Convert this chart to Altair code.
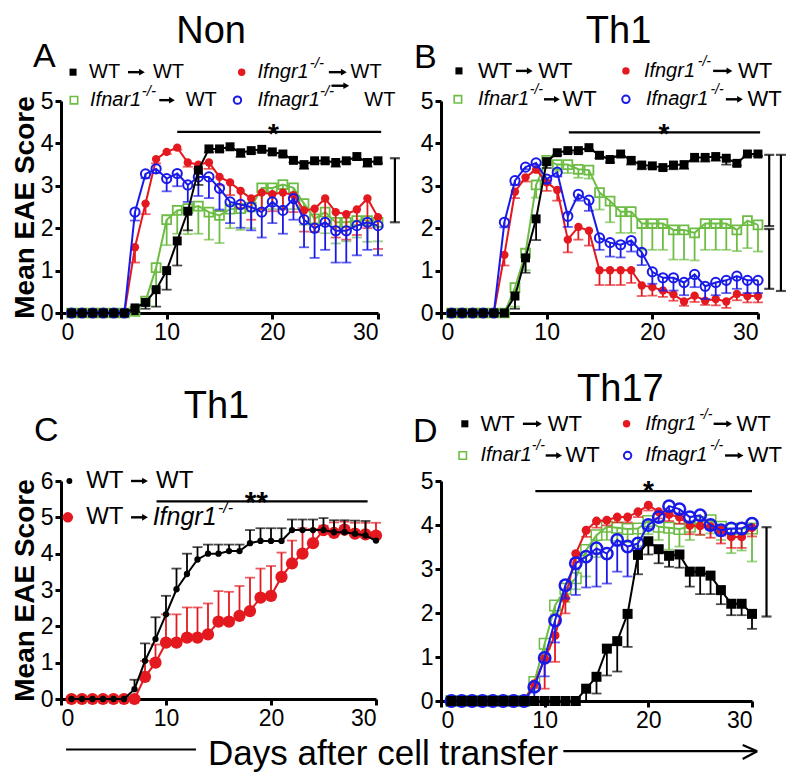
import altair as alt
import pandas as pd

FONT = "Liberation Sans"
DAYS = list(range(1, 31))
ORDER = ["Ifnar1", "Ifngr1", "Ifnagr1", "WT"]
COLORS = {"WT": "#000000", "Ifngr1": "#e3191f", "Ifnar1": "#6dbd45", "Ifnagr1": "#1a1ae8"}

# ---------------- Panel A : Non ----------------
A_WT = [0, 0, 0, 0, 0, 0, 0.12, 0.25, 0.55, 1.0, 1.7, 2.4, 3.37, 3.87, 3.87, 3.92, 3.78, 3.83, 3.86, 3.8, 3.75, 3.6, 3.5, 3.59, 3.59, 3.55, 3.59, 3.69, 3.55, 3.59]
A_WT_ERR = [0, 0, 0, 0, 0, 0, 0.1, 0.15, 0.4, 0.45, 0.58, 0.45, 0.35, 0.08, 0.06, 0.05, 0.1, 0.06, 0.06, 0.06, 0.05, 0.05, 0.1, 0.06, 0.06, 0.1, 0.06, 0.08, 0.1, 0.06]
A_GR = [0, 0, 0, 0, 0, 0, 1.55, 2.58, 3.63, 3.8, 3.9, 3.55, 3.5, 3.55, 3.21, 3.08, 2.88, 2.7, 2.84, 2.8, 2.84, 2.78, 2.42, 2.46, 2.7, 2.38, 2.33, 2.44, 2.7, 2.26]
A_GR_ERR = [0, 0, 0, 0, 0, 0, 0.36, 0.25, 0.1, 0.05, 0.05, 0.1, 0.1, 0.15, 0.2, 0.3, 0.4, 0.5, 0.4, 0.4, 0.4, 0.4, 0.5, 0.55, 0.6, 0.6, 0.6, 0.6, 0.7, 0.75]
A_AR = [0, 0, 0, 0, 0, 0, 0.04, 0.28, 1.07, 2.2, 2.42, 2.46, 2.52, 2.38, 2.3, 2.45, 2.46, 2.5, 2.95, 2.95, 3.03, 2.95, 2.58, 2.22, 2.38, 2.14, 2.14, 2.18, 2.18, 2.14]
A_AR_ERR = [0, 0, 0, 0, 0, 0, 0, 0.1, 0.5, 0.6, 0.55, 0.6, 0.65, 0.65, 0.65, 0.45, 0.5, 0.5, 0.5, 0.5, 0.55, 0.5, 0.5, 0.3, 0.5, 0.5, 0.45, 0.4, 0.5, 0.45]
A_AGR = [0, 0, 0, 0, 0, 0, 2.38, 3.28, 3.4, 3.17, 3.29, 3.02, 3.21, 3.21, 2.94, 2.62, 2.56, 2.5, 2.38, 2.62, 2.42, 2.7, 2.2, 2.0, 2.14, 1.94, 1.94, 2.06, 2.14, 2.06]
A_AGR_ERR = [0, 0, 0, 0, 0, 0, 0.2, 0.1, 0.1, 0.3, 0.3, 0.4, 0.45, 0.5, 0.5, 0.5, 0.55, 0.55, 0.6, 0.5, 0.55, 0.5, 0.65, 0.7, 0.65, 0.75, 0.75, 0.7, 0.65, 0.7]

# ---------------- Panel B : Th1 ----------------
B_WT = [0, 0, 0, 0, 0, 0, 0.4, 1.3, 2.22, 3.57, 3.78, 3.83, 3.83, 3.9, 3.72, 3.62, 3.75, 3.6, 3.49, 3.47, 3.43, 3.49, 3.5, 3.67, 3.67, 3.69, 3.65, 3.53, 3.75, 3.75]
B_WT_ERR = [0, 0, 0, 0, 0, 0, 0.3, 0.35, 0.5, 0.15, 0.05, 0.05, 0.05, 0.05, 0.07, 0.07, 0.05, 0.1, 0.1, 0.05, 0.05, 0.1, 0.1, 0.1, 0.1, 0.1, 0.15, 0.05, 0.05, 0.05]
B_GR = [0, 0, 0, 0, 0, 1.37, 2.86, 3.2, 3.38, 3.08, 2.9, 1.73, 2.03, 1.94, 1.01, 1.01, 1.01, 1.01, 0.65, 0.61, 0.53, 0.44, 0.27, 0.41, 0.29, 0.33, 0.27, 0.45, 0.4, 0.4]
B_GR_ERR = [0, 0, 0, 0, 0, 0.25, 0.15, 0.1, 0.05, 0.2, 0.25, 0.3, 0.3, 0.35, 0.35, 0.35, 0.35, 0.3, 0.25, 0.2, 0.15, 0.15, 0.1, 0.15, 0.1, 0.15, 0.15, 0.15, 0.15, 0.15]
B_AR = [0, 0, 0, 0, 0, 0, 0.6, 1.41, 3.02, 3.6, 3.5, 3.5, 3.39, 3.37, 2.84, 2.64, 2.39, 2.39, 2.11, 2.11, 2.11, 1.96, 1.96, 1.89, 2.11, 2.11, 2.11, 1.96, 2.18, 2.08]
B_AR_ERR = [0, 0, 0, 0, 0, 0, 0.45, 0.4, 0.3, 0.1, 0.15, 0.2, 0.2, 0.2, 0.4, 0.5, 0.5, 0.5, 0.62, 0.62, 0.62, 0.7, 0.7, 0.65, 0.62, 0.62, 0.62, 0.5, 0.65, 0.63]
B_AGR = [0, 0, 0, 0, 0, 2.14, 3.12, 3.44, 3.54, 3.16, 3.32, 2.28, 2.8, 2.66, 1.77, 1.66, 1.61, 1.71, 1.43, 0.97, 0.83, 0.83, 0.72, 0.91, 0.63, 0.72, 0.77, 0.87, 0.77, 0.77]
B_AGR_ERR = [0, 0, 0, 0, 0, 0.12, 0.1, 0.05, 0.05, 0.1, 0.1, 0.25, 0.15, 0.25, 0.28, 0.33, 0.3, 0.26, 0.3, 0.28, 0.3, 0.3, 0.3, 0.3, 0.3, 0.3, 0.3, 0.3, 0.3, 0.3]

# ---------------- Panel C : Th1 (recipients) ----------------
C_WT = [0, 0, 0, 0, 0, 0, 0.27, 1.05, 1.65, 2.33, 3.02, 3.44, 3.84, 4.0, 4.0, 4.07, 4.07, 4.29, 4.35, 4.35, 4.35, 4.65, 4.65, 4.65, 4.65, 4.59, 4.59, 4.55, 4.5, 4.36]
C_WT_ERR = [0, 0, 0, 0, 0, 0, 0.26, 0.48, 0.6, 0.51, 0.57, 0.56, 0.34, 0.25, 0.25, 0.18, 0.18, 0.36, 0.35, 0.35, 0.35, 0.29, 0.29, 0.29, 0.33, 0.33, 0.33, 0.36, 0.4, 0]
C_GR = [0, 0, 0, 0, 0, 0, 0, 0.61, 1.0, 1.55, 1.55, 1.69, 1.69, 1.78, 2.13, 2.13, 2.29, 2.42, 2.79, 2.84, 3.36, 3.73, 4.0, 4.29, 4.65, 4.57, 4.66, 4.55, 4.53, 4.5]
C_GR_ERR = [0, 0, 0, 0, 0, 0, 0, 0.44, 0.5, 0.78, 0.78, 0.83, 0.83, 0.85, 0.84, 0.82, 0.82, 0.92, 0.8, 0.82, 0.67, 0.63, 0.7, 0.39, 0.12, 0.29, 0.22, 0.3, 0.32, 0.35]

# ---------------- Panel D : Th17 ----------------
D_WT = [0] * 13 + [0.28, 0.55, 1.19, 1.36, 1.98, 3.32, 3.63, 3.45, 3.3, 3.33, 2.94, 2.94, 2.85, 2.52, 2.21, 2.21, 1.98]
D_WT_ERR = [0] * 13 + [0.28, 0.38, 0.61, 0.69, 0.75, 0.44, 0.3, 0.32, 0.25, 0.3, 0.34, 0.51, 0.42, 0.32, 0.26, 0.26, 0.34]
D_GR = [0] * 8 + [0.39, 0.96, 1.49, 2.34, 3.35, 3.88, 4.09, 4.11, 4.18, 4.18, 4.3, 4.45, 4.3, 4.24, 4.18, 3.99, 3.98, 3.96, 3.88, 3.73, 3.73, 3.94]
D_GR_ERR = [0] * 8 + [0.1, 0.68, 0.6, 0.35, 0.2, 0.15, 0.15, 0.12, 0.12, 0.12, 0.12, 0.12, 0.15, 0.15, 0.15, 0.2, 0.2, 0.25, 0.3, 0.25, 0.25, 0.2]
D_AR = [0] * 8 + [0.43, 1.3, 2.17, 2.55, 2.79, 3.43, 3.77, 3.96, 3.94, 3.91, 3.92, 4.09, 3.96, 3.94, 3.91, 3.96, 4.07, 4.11, 3.96, 3.91, 3.92, 3.92]
D_AR_ERR = [0] * 8 + [0.2, 0.25, 0.2, 0.3, 0.25, 0.6, 0.5, 0.3, 0.3, 0.3, 0.4, 0.3, 0.3, 0.5, 0.4, 0.3, 0.3, 0.3, 0.3, 0.55, 0.5, 0.75]
D_AGR = [0] * 8 + [0.32, 0.98, 1.83, 2.63, 3.13, 3.28, 3.47, 3.35, 3.66, 3.51, 3.58, 4.0, 4.18, 4.43, 4.36, 4.18, 4.22, 4.0, 3.88, 3.92, 3.92, 4.03]
D_AGR_ERR = [0] * 8 + [0.25, 0.42, 0.5, 0.3, 0.72, 0.7, 0.87, 0.68, 0.72, 0.68, 0.3, 0.08, 0.1, 0.1, 0.1, 0.1, 0.1, 0.1, 0.12, 0.1, 0.1, 0.1]

# ---------------- annotation tables (data units of each panel) ----------------
A_TEXT = [
    ("title", 14.2, 6.37, "Non"), ("letter", -2.65, 5.8, "A"), ("star", 20.1, 4.02, "*"),
    ("plain", 2.65, 5.68, "WT"), ("plain", 8.7, 5.68, "WT"), ("plain", 27.4, 5.68, "WT"),
    ("plain", 11.8, 5.02, "WT"), ("plain", 28.7, 5.02, "WT"),
    ("ital", 18.6, 5.68, "Ifngr1"), ("ital", 2.75, 5.02, "Ifnar1"), ("ital", 18.6, 5.02, "Ifnagr1"),
    ("sup", 23.55, 5.68, "-/-"), ("sup", 7.65, 5.02, "-/-"), ("sup", 24.5, 5.02, "-/-"),
]
A_ARROWS = [(6.34, 7.66, 5.68), (25.35, 26.77, 5.68), (9.3, 10.5, 5.02), (25.6, 27.0, 5.36)]
A_SEGS = [(11.0, 30.3, 4.27, 4.27), (31.6, 31.6, 3.65, 2.14)]
A_CAPS = [(31.6, 3.65), (31.6, 2.14)]
A_LEG = [("WT", 1.14, 5.68), ("Ifngr1", 17.1, 5.68), ("Ifnar1", 1.23, 5.02), ("Ifnagr1", 16.7, 5.02)]

B_TEXT = [
    ("title", 16.8, 6.37, "Th1"), ("letter", -2.55, 5.78, "B"), ("star", 21.1, 4.0, "*"),
    ("plain", 3.5, 5.71, "WT"), ("plain", 9.2, 5.71, "WT"), ("plain", 28.1, 5.71, "WT"),
    ("plain", 11.5, 5.04, "WT"), ("plain", 29.0, 5.04, "WT"),
    ("ital", 19.2, 5.71, "Ifngr1"), ("ital", 3.5, 5.04, "Ifnar1"), ("ital", 19.4, 5.04, "Ifnagr1"),
    ("sup", 24.3, 5.71, "-/-"), ("sup", 8.4, 5.04, "-/-"), ("sup", 25.5, 5.04, "-/-"),
]
B_ARROWS = [(7.1, 8.4, 5.71), (25.75, 27.3, 5.71), (9.75, 10.97, 5.04), (26.96, 28.3, 5.04)]
B_SEGS = [(12.1, 30.2, 4.26, 4.26), (31.06, 31.06, 3.73, 2.05), (31.06, 31.06, 1.98, 0.57), (32.17, 32.17, 3.73, 0.52)]
B_CAPS = [(31.06, 3.73), (31.06, 2.05), (31.06, 1.98), (31.06, 0.57), (32.17, 3.73), (32.17, 0.52)]
B_LEG = [("WT", 1.7, 5.71), ("Ifngr1", 17.5, 5.71), ("Ifnar1", 1.6, 5.04), ("Ifnagr1", 17.5, 5.04)]

C_TEXT = [
    ("title", 14.8, 7.73, "Th1"), ("letter", -2.57, 7.1, "C"), ("star", 18.6, 5.15, "**"),
    ("plain", 2.4, 6.0, "WT"), ("plain", 9.05, 6.0, "WT"), ("plain", 2.4, 5.0, "WT"),
    ("ital", 8.73, 5.0, "Ifngr1"), ("sup", 14.95, 5.0, "-/-"),
    ("xtitle", 14.0, -1.83, "Days after cell transfer"),
]
C_ARROWS = [(6.67, 8.0, 6.0), (6.67, 8.0, 5.0)]
C_SEGS = [(9.1, 29.2, 5.44, 5.44), (0.48, 12.86, -1.39, -1.39)]
C_CAPS = []
C_LEG = [("WT", 0.8, 6.0), ("Ifngr1", 0.65, 5.0)]

D_TEXT = [
    ("title", 17.3, 6.82, "Th17"), ("letter", -2.7, 5.89, "D"), ("star", 20.0, 4.57, "*"),
    ("plain", 3.8, 6.3, "WT"), ("plain", 10.3, 6.3, "WT"), ("plain", 28.5, 6.3, "WT"),
    ("plain", 12.0, 5.58, "WT"), ("plain", 29.6, 5.58, "WT"),
    ("ital", 19.7, 6.3, "Ifngr1"), ("ital", 3.8, 5.58, "Ifnar1"), ("ital", 19.7, 5.58, "Ifnagr1"),
    ("sup", 24.9, 6.3, "-/-"), ("sup", 8.75, 5.58, "-/-"), ("sup", 25.95, 5.58, "-/-"),
]
D_ARROWS = [(7.9, 9.45, 6.3), (26.3, 27.8, 6.3), (10.1, 11.4, 5.58), (27.4, 28.9, 5.58)]
D_SEGS = [(9.1, 30.0, 4.77, 4.77), (31.4, 31.4, 3.95, 1.92), (11.8, 30.5, -1.14, -1.14),
          (29.1, 30.5, -1.0, -1.14), (29.1, 30.5, -1.32, -1.14)]
D_CAPS = [(31.4, 3.95), (31.4, 1.92)]
D_LEG = [("WT", 2.3, 6.3), ("Ifngr1", 17.9, 6.3), ("Ifnar1", 2.1, 5.58), ("Ifnagr1", 18.0, 5.58)]


def panel(data, err_up, ymax, w, h, markers, leg_markers, texts, arrows, segs, caps, legs,
          ytitle, fs, fs_i, fs_s, cap_w=10):
    xs = alt.Scale(domain=[0, 30], nice=False, zero=False, padding=0)
    ys = alt.Scale(domain=[0, ymax], nice=False, padding=0)
    xax = alt.Axis(values=[0, 10, 20, 30], title="", grid=False)
    yax = alt.Axis(values=list(range(ymax + 1)), title=("Mean EAE Score" if ytitle else ""), grid=False)

    def X(f):
        return alt.X(f, type="quantitative", scale=xs, axis=xax)

    def Y(f):
        return alt.Y(f, type="quantitative", scale=ys, axis=yax)

    layers = []
    for s in ORDER:
        if s not in data:
            continue
        v, e = data[s]
        df = pd.DataFrame({"day": DAYS, "score": v, "err": e})
        df["end"] = df["score"] + df["err"] if err_up else df["score"] - df["err"]
        dfe = df[df["err"] > 0]
        col = COLORS[s]
        base = alt.Chart(df)
        layers.append(base.mark_line(color=col, strokeWidth=2).encode(x=X("day"), y=Y("score")))
        if len(dfe):
            eb = alt.Chart(dfe)
            layers.append(eb.mark_rule(color=col, strokeWidth=1.8).encode(
                x=X("day"), y=Y("score"), y2=alt.Y2("end")))
            layers.append(eb.mark_tick(color=col, orient="horizontal", size=cap_w, thickness=1.8).encode(
                x=X("day"), y=Y("end")))
        shape, filled, size, sw = markers[s]
        layers.append(base.mark_point(shape=shape, filled=filled, color=col, size=size,
                                      strokeWidth=sw, opacity=1).encode(x=X("day"), y=Y("score")))

    # legend symbols
    for s, lx, ly in legs:
        shape, filled, size, sw = leg_markers[s]
        layers.append(alt.Chart(pd.DataFrame({"x": [lx], "y": [ly]})).mark_point(
            shape=shape, filled=filled, color=COLORS[s], size=size, strokeWidth=sw, opacity=1,
            clip=False).encode(x=X("x"), y=Y("y")))

    # rules: significance bars, brackets, bottom arrow
    sdf = pd.DataFrame(segs, columns=["x", "x2", "y", "y2"])
    layers.append(alt.Chart(sdf).mark_rule(color="black", strokeWidth=2.2, clip=False).encode(
        x=X("x"), x2=alt.X2("x2"), y=Y("y"), y2=alt.Y2("y2")))
    if caps:
        cdf = pd.DataFrame(caps, columns=["x", "y"])
        layers.append(alt.Chart(cdf).mark_tick(color="black", orient="horizontal", size=10,
                                               thickness=2.2, clip=False).encode(x=X("x"), y=Y("y")))

    # legend arrows
    adf = pd.DataFrame(arrows, columns=["x", "x2", "y"])
    layers.append(alt.Chart(adf).mark_rule(color="black", strokeWidth=2.4, clip=False).encode(
        x=X("x"), x2=alt.X2("x2"), y=Y("y")))
    layers.append(alt.Chart(adf).mark_point(shape="triangle-right", filled=True, color="black",
                                            size=45, opacity=1, clip=False).encode(x=X("x2"), y=Y("y")))

    tdf = pd.DataFrame(texts, columns=["kind", "x", "y", "text"])
    styles = {
        "title": dict(fontSize=38, align="center", baseline="alphabetic"),
        "letter": dict(fontSize=34, align="left", baseline="alphabetic"),
        "star": dict(fontSize=28 if ymax == 5 else 30, fontWeight="bold", align="center", baseline="alphabetic"),
        "plain": dict(fontSize=fs, align="left", baseline="middle"),
        "ital": dict(fontSize=fs_i, fontStyle="italic", align="left", baseline="middle"),
        "sup": dict(fontSize=fs_s, fontStyle="italic", align="left", baseline="middle", dy=-9),
        "xtitle": dict(fontSize=35, align="left", baseline="alphabetic"),
    }
    for k, st in styles.items():
        sub = tdf[tdf["kind"] == k]
        if len(sub) == 0:
            continue
        layers.append(alt.Chart(sub).mark_text(font=FONT, color="black", clip=False, **st).encode(
            x=X("x"), y=Y("y"), text="text:N"))

    return alt.layer(*layers).properties(width=w, height=h)


M_STD = {
    "WT": ("square", True, 80, 1),
    "Ifngr1": ("circle", True, 70, 1),
    "Ifnar1": ("square", False, 80, 1.8),
    "Ifnagr1": ("circle", False, 85, 2),
}
M_LEG = {
    "WT": ("square", True, 50, 1),
    "Ifngr1": ("circle", True, 55, 1),
    "Ifnar1": ("square", False, 55, 1.6),
    "Ifnagr1": ("circle", False, 55, 2),
}
M_D = {
    "WT": ("square", True, 100, 1),
    "Ifngr1": ("circle", True, 80, 1),
    "Ifnar1": ("square", False, 110, 1.5),
    "Ifnagr1": ("circle", False, 130, 2.5),
}
M_C = {"WT": ("circle", True, 40, 1), "Ifngr1": ("circle", True, 150, 1)}
M_C_LEG = {"WT": ("circle", True, 35, 1), "Ifngr1": ("circle", True, 110, 1)}

pA = panel({"WT": (A_WT, A_WT_ERR), "Ifngr1": (A_GR, A_GR_ERR), "Ifnar1": (A_AR, A_AR_ERR),
            "Ifnagr1": (A_AGR, A_AGR_ERR)}, False, 5, 317, 212, M_STD, M_LEG,
           A_TEXT, A_ARROWS, A_SEGS, A_CAPS, A_LEG, True, 20, 20, 15)
pB = panel({"WT": (B_WT, B_WT_ERR), "Ifngr1": (B_GR, B_GR_ERR), "Ifnar1": (B_AR, B_AR_ERR),
            "Ifnagr1": (B_AGR, B_AGR_ERR)}, False, 5, 317, 212, M_STD, M_LEG,
           B_TEXT, B_ARROWS, B_SEGS, B_CAPS, B_LEG, False, 22, 20, 14)
pC = panel({"WT": (C_WT, C_WT_ERR), "Ifngr1": (C_GR, C_GR_ERR)}, True, 6, 315, 218, M_C, M_C_LEG,
           C_TEXT, C_ARROWS, C_SEGS, C_CAPS, C_LEG, True, 24, 25, 16)
pD = panel({"WT": (D_WT, D_WT_ERR), "Ifngr1": (D_GR, D_GR_ERR), "Ifnar1": (D_AR, D_AR_ERR),
            "Ifnagr1": (D_AGR, D_AGR_ERR)}, False, 5, 311, 220, M_D, M_LEG,
           D_TEXT, D_ARROWS, D_SEGS, D_CAPS, D_LEG, False, 22, 20, 14)

chart = alt.concat(
    pA, pB, pC, pD, columns=2, spacing={"row": 168, "column": 63}, bounds="flush"
).properties(
    padding={"left": 3, "top": 4, "right": 5, "bottom": 2}
).configure_view(
    stroke=None
).configure_axis(
    labelFont=FONT, labelFontSize=23, labelColor="black", labelPadding=2,
    domainColor="black", domainWidth=3, tickColor="black", tickWidth=3, tickSize=6,
    titleFont=FONT, titleFontSize=28, titleFontWeight="bold", titleColor="black", titlePadding=0.5,
    grid=False,
)

chart.save("out.html", embed_options={"renderer": "svg", "actions": False})
